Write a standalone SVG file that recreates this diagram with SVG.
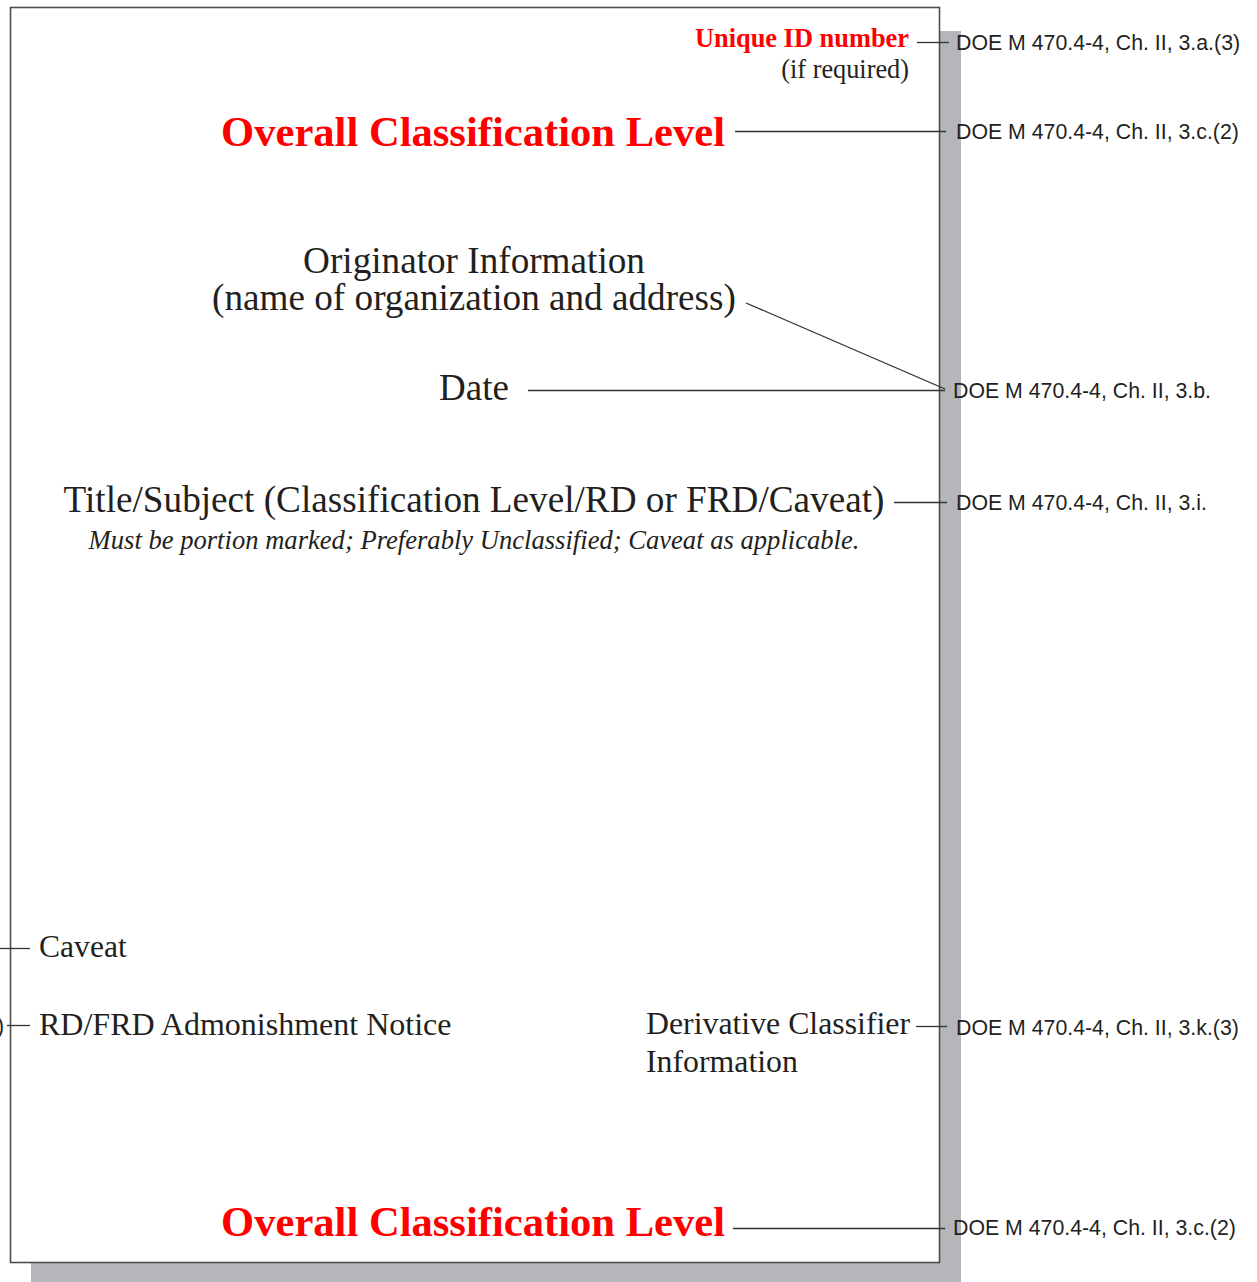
<svg xmlns="http://www.w3.org/2000/svg" width="1257" height="1282" viewBox="0 0 1257 1282">
<style>
.ser{font-family:"Liberation Serif","Times New Roman",serif;fill:#231f20}
.red{font-family:"Liberation Serif","Times New Roman",serif;fill:#ff0000;font-weight:bold}
.ref{font-family:"Liberation Sans",Arial,sans-serif;font-size:21.3px;fill:#231f20}
.ln{stroke:#333;stroke-width:1.3;fill:none}
</style>
<rect width="1257" height="1282" fill="#fff"/>
<g id="page">
<rect x="31" y="31" width="930" height="1251" fill="#b5b6b9"/>
<rect x="10.5" y="7.5" width="929" height="1255" fill="#fff" stroke="#4d4d4d" stroke-width="1.6"/>
</g>
<g id="connectors">
<line class="ln" x1="917" y1="42.5" x2="949" y2="42.5"/>
<line class="ln" x1="735" y1="131.5" x2="946" y2="131.5"/>
<line class="ln" x1="746" y1="303" x2="945" y2="389"/>
<line class="ln" x1="528" y1="390.5" x2="945" y2="390.5"/>
<line class="ln" x1="894" y1="502.5" x2="947" y2="502.5"/>
<line class="ln" x1="0" y1="948.5" x2="30" y2="948.5"/>
<line class="ln" x1="7" y1="1025.5" x2="30" y2="1025.5"/>
<line class="ln" x1="916" y1="1026.5" x2="947" y2="1026.5"/>
<line class="ln" x1="733" y1="1228.5" x2="945" y2="1228.5"/>
</g>
<g id="unique-id">
<text class="red" x="909" y="47" font-size="26.4" text-anchor="end">Unique ID number</text>
<text class="ser" x="909" y="78" font-size="26.3" text-anchor="end">(if required)</text>
</g>
<g id="overall-top"><text class="red" x="725" y="146" font-size="42.6" text-anchor="end">Overall Classification Level</text></g>
<g id="originator">
<text class="ser" x="474" y="273" font-size="37.2" text-anchor="middle">Originator Information</text>
<text class="ser" x="474" y="310" font-size="37.2" text-anchor="middle">(name of organization and address)</text>
</g>
<g id="date"><text class="ser" x="474" y="400" font-size="37" text-anchor="middle">Date</text></g>
<g id="title">
<text class="ser" x="474" y="512" font-size="37.2" text-anchor="middle">Title/Subject (Classification Level/RD or FRD/Caveat)</text>
<text class="ser" x="474" y="549" font-size="26.6" font-style="italic" text-anchor="middle">Must be portion marked; Preferably Unclassified; Caveat as applicable.</text>
</g>
<g id="caveat"><text class="ser" x="39" y="957" font-size="31.6">Caveat</text></g>
<g id="admonishment">
<text class="ref" x="4" y="1033" text-anchor="end">)</text>
<text class="ser" x="39" y="1035" font-size="32">RD/FRD Admonishment Notice</text>
</g>
<g id="derivative">
<text class="ser" x="646" y="1034" font-size="31.8">Derivative Classifier</text>
<text class="ser" x="646" y="1072" font-size="31.8">Information</text>
</g>
<g id="overall-bottom"><text class="red" x="725" y="1236" font-size="42.6" text-anchor="end">Overall Classification Level</text></g>
<g id="refs">
<text class="ref" x="956" y="50">DOE M 470.4-4, Ch. II, 3.a.(3)</text>
<text class="ref" x="956" y="139">DOE M 470.4-4, Ch. II, 3.c.(2)</text>
<text class="ref" x="953" y="398">DOE M 470.4-4, Ch. II, 3.b.</text>
<text class="ref" x="956" y="510">DOE M 470.4-4, Ch. II, 3.i.</text>
<text class="ref" x="956" y="1035">DOE M 470.4-4, Ch. II, 3.k.(3)</text>
<text class="ref" x="953" y="1235">DOE M 470.4-4, Ch. II, 3.c.(2)</text>
</g>
</svg>
